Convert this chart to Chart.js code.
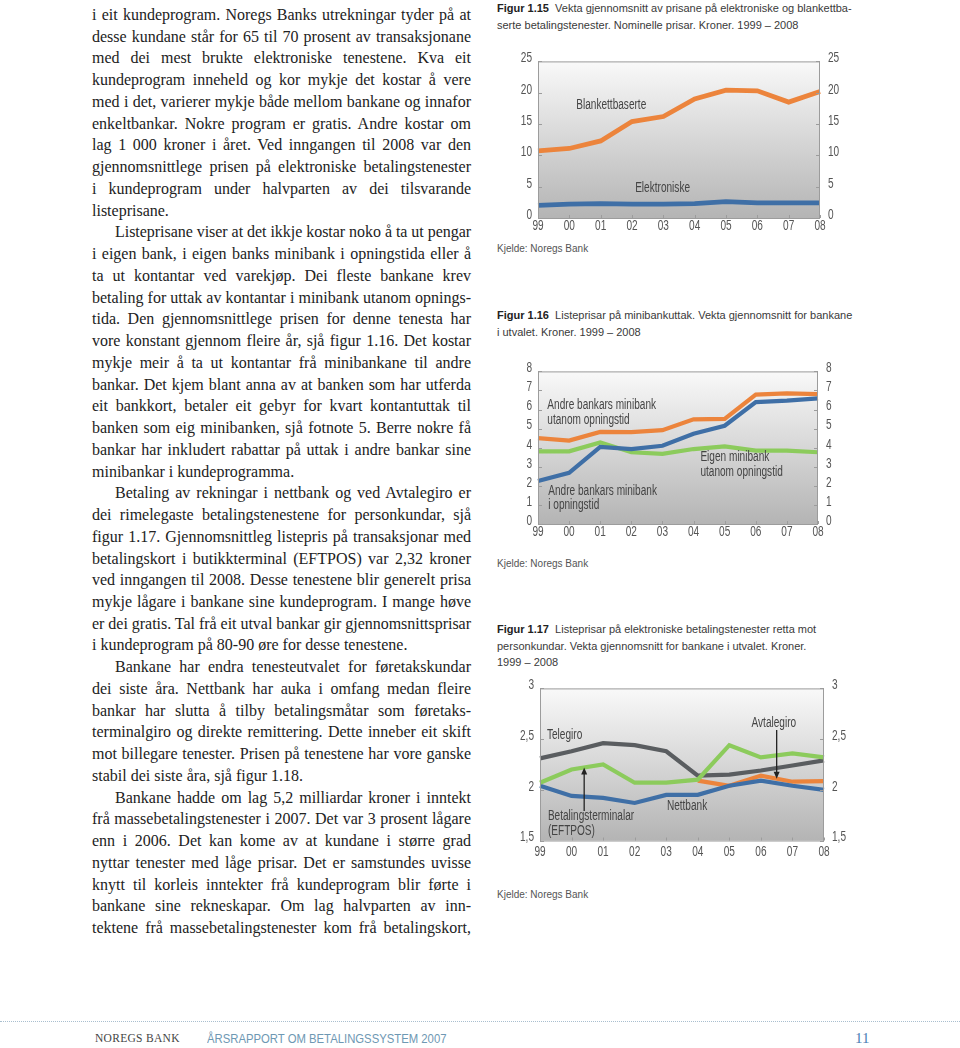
<!DOCTYPE html>
<html>
<head>
<meta charset="utf-8">
<script src="https://cdn.jsdelivr.net/npm/chart.js@4.4.0/dist/chart.umd.min.js"></script>
<style>
  body { margin: 0; background: #fff; width: 960px; height: 1048px; position: relative; overflow: hidden; }
  .ln { position: absolute; font-family: "Liberation Serif", "Times New Roman", serif; font-size: 16px; line-height: 21.74px; color: #222; white-space: nowrap; text-align: justify; }
  .ttl { position: absolute; left: 497px; font-family: "Liberation Sans", Arial, sans-serif; font-size: 11px; line-height: 16.5px; color: #3a3a3a; white-space: nowrap; }
  .ttl b { color: #222; }
  .src { position: absolute; left: 497px; font-family: "Liberation Sans", Arial, sans-serif; font-size: 10px; color: #555; }
  canvas { position: absolute; }
  #foot { position: absolute; left: 0; top: 1021px; width: 960px; border-top: 1px dotted #a9bfcf; }
  .ft { position: absolute; top: 1032px; white-space: nowrap; }
</style>
</head>
<body>
<div id="col"></div>

<div class="ttl" style="top:0px"><b>Figur 1.15</b>&nbsp; Vekta gjennomsnitt av prisane på elektroniske og blankettba-<br>serte betalingstenester. Nominelle prisar. Kroner. 1999 – 2008</div>
<canvas id="c1" width="355" height="190" style="left:500px;top:45px"></canvas>
<div class="src" style="top:243px">Kjelde: Noregs Bank</div>

<div class="ttl" style="top:307px"><b>Figur 1.16</b>&nbsp; Listeprisar på minibankuttak. Vekta gjennomsnitt for bankane<br>i utvalet. Kroner. 1999 – 2008</div>
<canvas id="c2" width="355" height="187" style="left:500px;top:355px"></canvas>
<div class="src" style="top:558px">Kjelde: Noregs Bank</div>

<div class="ttl" style="top:621px"><b>Figur 1.17</b>&nbsp; Listeprisar på elektroniske betalingstenester retta mot<br>personkundar. Vekta gjennomsnitt for bankane i utvalet. Kroner.<br>1999 – 2008</div>
<canvas id="c3" width="355" height="190" style="left:500px;top:672px"></canvas>
<div class="src" style="top:889px">Kjelde: Noregs Bank</div>

<div id="foot"></div>
<div class="ft" style="left:95px;font-family:'Liberation Serif',serif;font-size:11.5px;letter-spacing:0.3px;color:#444">NOREGS BANK</div>
<div class="ft" style="left:207px;top:1031px;font-family:'Liberation Sans',sans-serif;font-size:13px;color:#6e98b3;transform:scaleX(0.87);transform-origin:0 0">ÅRSRAPPORT OM BETALINGSSYSTEM 2007</div>
<div class="ft" style="left:855px;top:1030px;font-family:'Liberation Serif',serif;font-size:15px;color:#4a7fb5">11</div>

<script>
// shared x categories
const years = ['99', '00', '01', '02', '03', '04', '05', '06', '07', '08'];

// figur 1.15
const blankettbaserte = [10.7, 11.1, 12.3, 15.4, 16.2, 19.0, 20.4, 20.3, 18.5, 20.2];
const elektroniske = [2.0, 2.2, 2.3, 2.2, 2.2, 2.3, 2.6, 2.4, 2.4, 2.4];
const ticks1 = [0, 25, 5];

// figur 1.16
const andreUtanom = [4.5, 4.37, 4.83, 4.82, 4.92, 5.49, 5.51, 6.78, 6.85, 6.81];
const andreI = [2.25, 2.68, 4.04, 3.93, 4.1, 4.73, 5.15, 6.39, 6.47, 6.59];
const eigenUtanom = [3.81, 3.81, 4.28, 3.76, 3.68, 3.93, 4.07, 3.85, 3.85, 3.76];
const ticks2 = [0, 8, 1];

// figur 1.17
const telegiro = [2.31, 2.38, 2.46, 2.44, 2.38, 2.14, 2.15, 2.19, 2.24, 2.29];
const eftpos = [2.07, 2.2, 2.25, 2.07, 2.07, 2.1, 2.44, 2.32, 2.36, 2.32];
const avtalegiro = [null, null, null, null, null, 2.09, 2.04, 2.14, 2.08, 2.085];
const nettbank = [2.04, 1.94, 1.92, 1.87, 1.95, 1.95, 2.04, 2.09, 2.04, 2.0];
const ticks3 = [1.5, 3, 0.5];

const orange = '#ec843c', blue = '#3f6fa6', green = '#8ccb5c', grey = '#5a5d60';

// body text (left column)
const lines = [
  'i eit kundeprogram. Noregs Banks utrekningar tyder på at',
  'desse kundane står for 65 til 70 prosent av transaksjonane',
  'med dei mest brukte elektroniske tenestene. Kva eit',
  'kundeprogram inneheld og kor mykje det kostar å vere',
  'med i det, varierer mykje både mellom bankane og innafor',
  'enkeltbankar. Nokre program er gratis. Andre kostar om',
  'lag 1 000 kroner i året. Ved inngangen til 2008 var den',
  'gjennomsnittlege prisen på elektroniske betalingstenester',
  'i kundeprogram under halvparten av dei tilsvarande',
  'listeprisane.',
  'Listeprisane viser at det ikkje kostar noko å ta ut pengar',
  'i eigen bank, i eigen banks minibank i opningstida eller å',
  'ta ut kontantar ved varekjøp. Dei fleste bankane krev',
  'betaling for uttak av kontantar i minibank utanom opnings-',
  'tida. Den gjennomsnittlege prisen for denne tenesta har',
  'vore konstant gjennom fleire år, sjå figur 1.16. Det kostar',
  'mykje meir å ta ut kontantar frå minibankane til andre',
  'bankar. Det kjem blant anna av at banken som har utferda',
  'eit bankkort, betaler eit gebyr for kvart kontantuttak til',
  'banken som eig minibanken, sjå fotnote 5. Berre nokre få',
  'bankar har inkludert rabattar på uttak i andre bankar sine',
  'minibankar i kundeprogramma.',
  'Betaling av rekningar i nettbank og ved Avtalegiro er',
  'dei rimelegaste betalingstenestene for personkundar, sjå',
  'figur 1.17. Gjennomsnittleg listepris på transaksjonar med',
  'betalingskort i butikkterminal (EFTPOS) var 2,32 kroner',
  'ved inngangen til 2008. Desse tenestene blir generelt prisa',
  'mykje lågare i bankane sine kundeprogram. I mange høve',
  'er dei gratis. Tal frå eit utval bankar gir gjennomsnittsprisar',
  'i kundeprogram på 80-90 øre for desse tenestene.',
  'Bankane har endra tenesteutvalet for føretakskundar',
  'dei siste åra. Nettbank har auka i omfang medan fleire',
  'bankar har slutta å tilby betalingsmåtar som føretaks-',
  'terminalgiro og direkte remittering. Dette inneber eit skift',
  'mot billegare tenester. Prisen på tenestene har vore ganske',
  'stabil dei siste åra, sjå figur 1.18.',
  'Bankane hadde om lag 5,2 milliardar kroner i inntekt',
  'frå massebetalingstenester i 2007. Det var 3 prosent lågare',
  'enn i 2006. Det kan kome av at kundane i større grad',
  'nyttar tenester med låge prisar. Det er samstundes uvisse',
  'knytt til korleis inntekter frå kundeprogram blir førte i',
  'bankane sine rekneskapar. Om lag halvparten av inn-',
  'tektene frå massebetalingstenester kom frå betalingskort,'
];
const paraStart = [10, 22, 30, 36];
const paraEnd = [9, 21, 29, 35];

const col = document.getElementById('col');
lines.forEach((t, i) => {
  const ind = paraStart.includes(i) ? 23 : 0;
  const w = 379 - ind;
  const d = document.createElement('div');
  d.className = 'ln';
  d.style.top = (4 + i * 21.74) + 'px';
  d.style.left = (92 + ind) + 'px';
  d.style.width = w + 'px';
  const sp = document.createElement('span');
  sp.style.display = 'inline-block';
  sp.textContent = t;
  d.appendChild(sp);
  col.appendChild(d);
  const nat = sp.getBoundingClientRect().width;
  d.textContent = t;
  if (!paraEnd.includes(i)) d.style.textAlignLast = 'justify';
  if (nat > w) d.style.letterSpacing = ((w - nat) / t.length) + 'px';
});

// chart helpers
const sans = '"Liberation Sans", Arial, sans-serif';

const frame = {
  id: 'frame',
  beforeInit(chart) {
    // the original uses a condensed face: squeeze every canvas text horizontally
    const ctx = chart.ctx;
    const orig = ctx.fillText;
    ctx.fillText = function (t, x, y, mw) {
      this.save();
      this.translate(x, y);
      this.scale(0.72, 1);
      orig.call(this, t, 0, 0, mw);
      this.restore();
    };
  },
  beforeDatasetsDraw(chart) {
    const { ctx, chartArea: a } = chart;
    const g = ctx.createLinearGradient(0, a.top, 0, a.bottom);
    g.addColorStop(0, '#f9f9f9');
    g.addColorStop(1, '#b4b4b4');
    ctx.save();
    ctx.fillStyle = g;
    ctx.fillRect(a.left, a.top, a.right - a.left, a.bottom - a.top);
    ctx.restore();
  },
  afterDatasetsDraw(chart, args, opts) {
    const { ctx, chartArea: a, scales } = chart;
    const x = scales.x, y = scales.y;
    ctx.save();
    ctx.strokeStyle = '#9c9c9c';
    ctx.lineWidth = 1;
    ctx.strokeRect(a.left + 0.5, a.top + 0.5, a.right - a.left - 1, a.bottom - a.top);
    y.ticks.forEach(t => {
      const py = Math.round(y.getPixelForValue(t.value)) + 0.5;
      ctx.beginPath();
      ctx.moveTo(a.left, py); ctx.lineTo(a.left + 4, py);
      ctx.moveTo(a.right - 4, py); ctx.lineTo(a.right, py);
      ctx.stroke();
    });
    x.ticks.forEach((t, i) => {
      const px = Math.round(x.getPixelForValue(i)) + 0.5;
      ctx.beginPath();
      ctx.moveTo(px, a.bottom); ctx.lineTo(px, a.bottom - 3);
      ctx.stroke();
    });
    // text notes
    ctx.fillStyle = '#444';
    ctx.font = '14px ' + sans;
    ctx.textBaseline = 'middle';
    (opts.notes || []).forEach(n => {
      ctx.textAlign = n.align || 'left';
      ctx.fillText(n.text, x.getPixelForValue(n.x), y.getPixelForValue(n.y));
    });
    // arrows
    ctx.strokeStyle = '#222';
    ctx.fillStyle = '#222';
    ctx.lineWidth = 1.3;
    (opts.arrows || []).forEach(ar => {
      const px = x.getPixelForValue(ar.x);
      const y1 = y.getPixelForValue(ar.from), y2 = y.getPixelForValue(ar.to);
      const dir = y2 > y1 ? 1 : -1;
      ctx.beginPath();
      ctx.moveTo(px, y1); ctx.lineTo(px, y2 - dir * 5);
      ctx.stroke();
      ctx.beginPath();
      ctx.moveTo(px, y2);
      ctx.lineTo(px - 3, y2 - dir * 7);
      ctx.lineTo(px + 3, y2 - dir * 7);
      ctx.closePath();
      ctx.fill();
    });
    ctx.restore();
  }
};

function fmt(v) { return String(v).replace('.', ','); }

function lineChart(id, sets, tk, lay, notes, arrows) {
  const yTicks = (pad, w) => ({
    position: pad,
    min: tk[0], max: tk[1],
    grid: { display: false, drawTicks: false },
    border: { display: false },
    ticks: { stepSize: tk[2], autoSkip: false, color: '#555', font: { family: sans, size: 14 }, padding: pad === 'left' ? 6 : 8, labelOffset: -3, callback: fmt },
    afterFit: s => { s.width = w; }
  });
  return new Chart(document.getElementById(id), {
    type: 'line',
    data: {
      labels: years,
      datasets: sets.map(s => ({
        data: s.data, borderColor: s.color, borderWidth: s.w || 4.2,
        pointRadius: 0, tension: 0, fill: false, spanGaps: false,
        borderCapStyle: 'butt', borderJoinStyle: 'miter', clip: 4
      }))
    },
    options: {
      responsive: false, animation: false,
      layout: { padding: { top: lay.top, left: 0, right: 0, bottom: 0 } },
      plugins: { legend: { display: false }, tooltip: { enabled: false }, frame: { notes, arrows } },
      scales: {
        x: {
          grid: { display: false, drawTicks: false },
          border: { display: false },
          ticks: { color: '#555', font: { family: sans, size: 14 }, padding: lay.xpad, maxRotation: 0, autoSkip: false },
          afterFit: s => { s.height = lay.xh; }
        },
        y: yTicks('left', lay.lw),
        y2: yTicks('right', lay.rw)
      }
    },
    plugins: [frame]
  });
}

lineChart('c1', [
  { data: blankettbaserte, color: orange, w: 4.8 },
  { data: elektroniske, color: blue, w: 4.8 }
], ticks1, { top: 13, lw: 38, rw: 35, xh: 17, xpad: 0 }, [
  { text: 'Blankettbaserte', x: 1.22, y: 18 },
  { text: 'Elektroniske', x: 3.1, y: 4.7 }
], []);

lineChart('c2', [
  { data: andreI, color: blue },
  { data: eigenUtanom, color: green },
  { data: andreUtanom, color: orange }
], ticks2, { top: 13, lw: 38, rw: 37, xh: 18, xpad: 0 }, [
  { text: 'Andre bankars minibank', x: 0.3, y: 6.24 },
  { text: 'utanom opningstid', x: 0.3, y: 5.47 },
  { text: 'Eigen minibank', x: 5.22, y: 3.48 },
  { text: 'utanom opningstid', x: 5.22, y: 2.71 },
  { text: 'Andre bankars minibank', x: 0.33, y: 1.74 },
  { text: 'i opningstid', x: 0.33, y: 0.97 }
], []);

lineChart('c3', [
  { data: eftpos, color: green },
  { data: nettbank, color: blue },
  { data: avtalegiro, color: orange },
  { data: telegiro, color: grey }
], ticks3, { top: 13, lw: 40, rw: 31, xh: 21.5, xpad: 3.5 }, [
  { text: 'Telegiro', x: 0.22, y: 2.54 },
  { text: 'Avtalegiro', x: 7.41, y: 2.66, align: 'center' },
  { text: 'Nettbank', x: 4.66, y: 1.84, align: 'center' },
  { text: 'Betalingsterminalar', x: 0.25, y: 1.74 },
  { text: '(EFTPOS)', x: 0.25, y: 1.59 }
], [
  { x: 7.5, from: 2.59, to: 2.11 },
  { x: 1.4, from: 1.79, to: 2.22 }
]);
</script>
</body>
</html>
